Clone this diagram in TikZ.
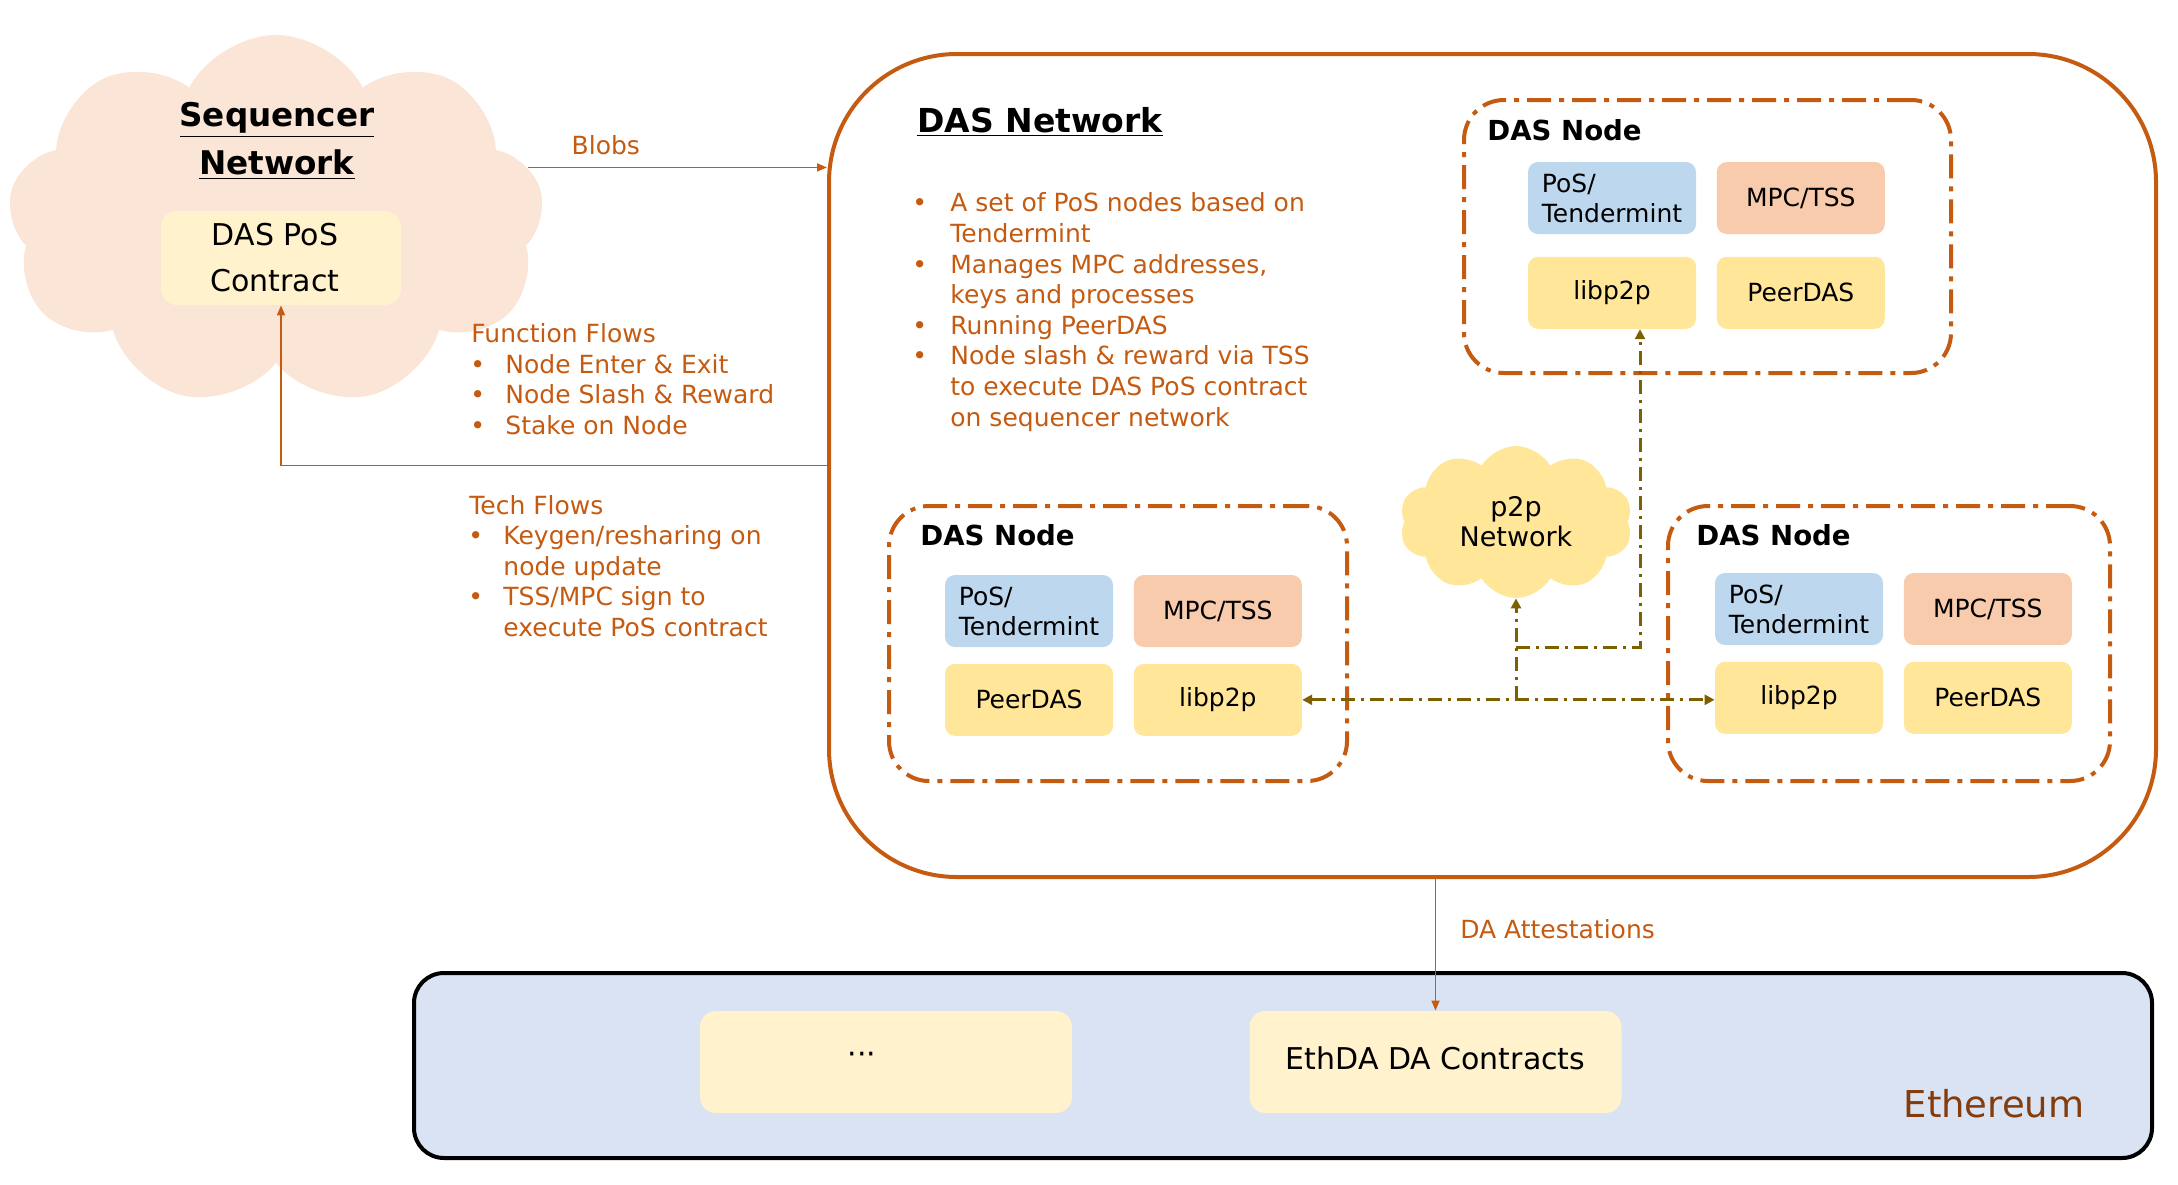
\documentclass[tikz,border=0pt]{standalone}
\usepackage{fontspec}
\setmainfont{DejaVu Sans}
\usetikzlibrary{arrows.meta,positioning,shapes.symbols}
\definecolor{dasorange}{HTML}{C55A11}
\definecolor{linkolive}{HTML}{7F6000}
\definecolor{seqfill}{HTML}{FBE5D6}
\definecolor{contractfill}{HTML}{FFF2CC}
\definecolor{p2pyellow}{HTML}{FFE699}
\definecolor{posblue}{HTML}{BDD7EE}
\definecolor{mpcpeach}{HTML}{F8CBAD}
\definecolor{ethfill}{HTML}{DAE3F3}
\definecolor{ethbrown}{HTML}{843C0C}
\newcommand{\bul}{\makebox[19pt][l]{\textbullet}}
\newcommand{\fbul}{\makebox[17pt][l]{\hspace{-0.5pt}\textbullet}}
\newcommand{\ind}{\hspace*{19pt}}
\newcommand{\find}{\hspace*{17pt}}

\begin{document}
\begin{tikzpicture}[
      x=0.5pt, y=0.5pt,
      flow/.style={draw=dasorange, line width=0.8pt, -{Triangle[length=5pt,width=4pt]}},
      flowtext/.style={text=dasorange, font=\fontsize{12.5}{15.3}\selectfont, align=left, inner sep=0pt},
      p2plink/.style={draw=linkolive, line width=1.5pt, dash pattern=on 7pt off 3pt on 1.5pt off 3pt},
      dasnode/.style={draw=dasorange, line width=2pt, rounded corners=20pt, dash pattern=on 12pt off 4pt on 2.5pt off 4pt},
      nodelabel/.style={font=\bfseries\fontsize{13.8}{16}\selectfont, inner sep=0pt, anchor=west},
      part/.style={rounded corners=5pt, minimum width=84pt, minimum height=36pt, font=\fontsize{12.5}{15}\selectfont, inner sep=0pt},
      posbox/.style={part, fill=posblue, align=left},
      mpcbox/.style={part, fill=mpcpeach},
      p2pbox/.style={part, fill=p2pyellow},
      ethpart/.style={rounded corners=8pt, fill=contractfill, minimum width=186pt, minimum height=51pt, font=\fontsize{15}{18}\selectfont}
    ]
    \useasboundingbox (0,0) rectangle (2178,-1184);

    % sequencer side
    \node[cloud, cloud puffs=9, cloud puff arc=125, cloud ignores aspect, fill=seqfill, minimum width=268pt, minimum height=186pt, inner sep=0pt] (seqcloud) at (276,-221) {};
    \node[font=\bfseries\fontsize{16.3}{24}\selectfont, align=center] (seqtitle) at (277,-141) {\underline{Sequencer}\\\underline{Network}};
    \node[rounded corners=8pt, fill=contractfill, minimum width=120pt, minimum height=47pt, align=center, font=\fontsize{15}{23}\selectfont] (poscontract) at (281,-258) {\hspace*{-6pt}DAS PoS\\\hspace*{-6pt}Contract};

    % DAS network
    \node[draw=dasorange, line width=2pt, rounded corners=64pt, minimum width=663.5pt, minimum height=411.5pt] (dasnet) at (1492.5,-465.5) {};
    \node[font=\bfseries\fontsize{16.5}{20}\selectfont] (dastitle) at (1040,-122) {\underline{DAS Network}};
    \node[flowtext, anchor=west] (dasfeatures) at (912,-312) {\bul A set of PoS nodes based on\\\ind Tendermint\\\bul Manages MPC addresses,\\\ind keys and processes\\\bul Running PeerDAS\\\bul Node slash \& reward via TSS\\\ind to execute DAS PoS contract\\\ind on sequencer network};

    % top node
    \node[dasnode, minimum width=243.5pt, minimum height=136.5pt] (nodeA) at (1707.5,-236.5) {};
    \node[nodelabel] at ([shift={(12.5pt,-16pt)}]nodeA.north west) {DAS Node};
    \node[posbox] (posA) at (1612,-198) {PoS/\\Tendermint};
    \node[mpcbox, right=10pt of posA] (mpcA) {MPC/TSS};
    \node[p2pbox, below=11pt of posA] (libA) {libp2p};
    \node[p2pbox, right=10pt of libA] (peerA) {PeerDAS};

    % left node
    \node[dasnode, minimum width=229pt, minimum height=137.5pt] (nodeB) at (1118,-643.5) {};
    \node[nodelabel] at ([shift={(16.5pt,-15.5pt)}]nodeB.north west) {DAS Node};
    \node[posbox] (posB) at (1029,-611) {PoS/\\Tendermint};
    \node[mpcbox, right=10pt of posB] (mpcB) {MPC/TSS};
    \node[p2pbox, below=8pt of posB] (peerB) {PeerDAS};
    \node[p2pbox, right=10pt of peerB] (libB) {libp2p};

    % right node
    \node[dasnode, minimum width=221pt, minimum height=137.5pt] (nodeC) at (1889,-643.5) {};
    \node[nodelabel] at ([shift={(15pt,-15.5pt)}]nodeC.north west) {DAS Node};
    \node[posbox] (posC) at (1799,-609) {PoS/\\Tendermint};
    \node[mpcbox, right=10pt of posC] (mpcC) {MPC/TSS};
    \node[p2pbox, below=8pt of posC] (libC) {libp2p};
    \node[p2pbox, right=10pt of libC] (peerC) {PeerDAS};

    \node[cloud, cloud puffs=10, cloud puff arc=120, cloud ignores aspect, fill=p2pyellow, minimum width=116.5pt, minimum height=76pt, inner sep=0pt, align=center, font=\fontsize{13.5}{15}\selectfont] (p2pcloud) at (1516,-522) {p2p\\Network};

    % ethereum
    \node[draw=black, line width=2pt, rounded corners=15pt, fill=ethfill, minimum width=869pt, minimum height=92.5pt] (ethbox) at (1283,-1065.5) {};
    \node[ethpart, text depth=4pt] (ethdots) at (886,-1062) {···\hspace*{24pt}};
    \node[ethpart, text depth=4pt] (ethda) at (1435.5,-1062) {EthDA DA Contracts};
    \node[text=ethbrown, font=\fontsize{18.5}{22}\selectfont] (ethname) at (1994,-1104) {Ethereum};

    % flows
    \node[flowtext, anchor=west] (funcflows) at (471,-379) {Function Flows\\\fbul Node Enter \& Exit\\\fbul Node Slash \& Reward\\\fbul Stake on Node};
    \node[flowtext, anchor=west] (techflows) at (469,-566) {Tech Flows\\\fbul Keygen/resharing on\\\find node update\\\fbul TSS/MPC sign to\\\find execute PoS contract};

    \draw[flow] (seqcloud.12) -- (seqcloud.12 -| dasnet.west) node[pos=0.26, above=6pt, flowtext] {Blobs};
    \draw[flow] (dasnet.west) -| (poscontract.south);
    \draw[flow] (ethda.north |- dasnet.south) -- node[pos=0.38, right=12pt, flowtext] {DA Attestations} (ethda.north);

    % p2p links
    \coordinate (hub) at (p2pcloud.south |- libB.east);
    \coordinate (tap) at (1516,-647);
    \draw[p2plink, {Triangle[length=5pt,width=5pt]}-{Triangle[length=5pt,width=5pt]}] (libB.east) -- (libB.east -| libC.west);
    \draw[p2plink, -{Triangle[length=5pt,width=5pt]}] (hub) -- (p2pcloud.south);
    \draw[p2plink, -{Triangle[length=5pt,width=5pt]}] (tap) -| ([xshift=14pt]libA.south);
  \end{tikzpicture}
\end{document}
